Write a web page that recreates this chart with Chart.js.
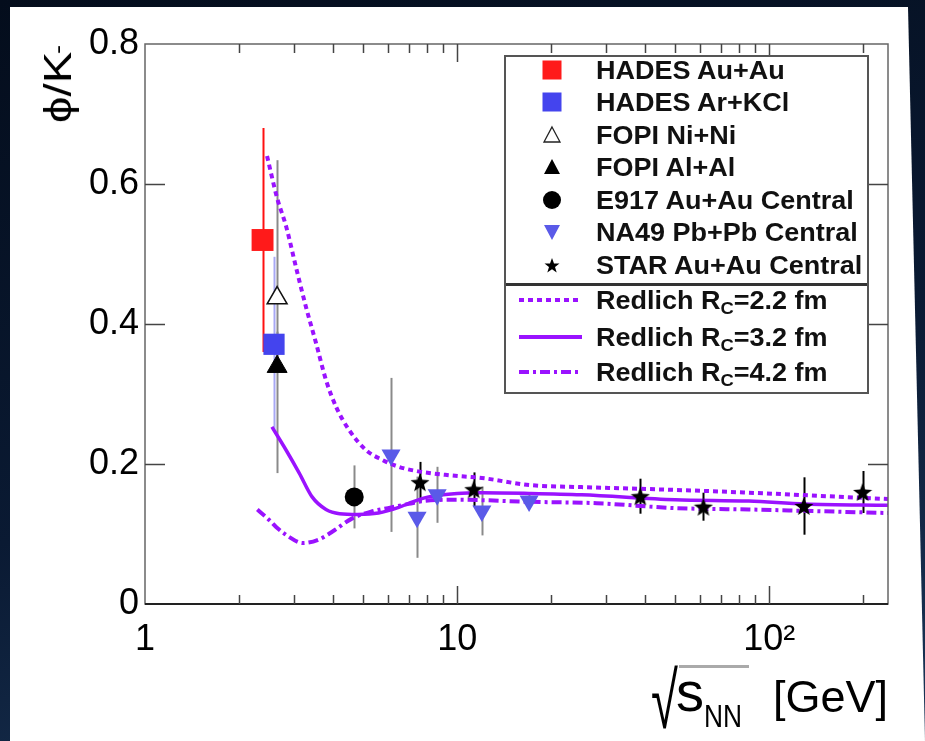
<!DOCTYPE html>
<html>
<head>
<meta charset="utf-8">
<script src="https://cdn.jsdelivr.net/npm/chart.js@4.4.1/dist/chart.umd.min.js"></script>
<style>
html, body { margin: 0; padding: 0; }
body {
    width: 925px; height: 741px; overflow: hidden; position: relative;
    background: linear-gradient(165deg, #040d1c 0%, #0a1a33 55%, #1b3658 100%);
    font-family: 'Liberation Sans', Arial, sans-serif;
}
#panel {
    position: absolute; left: 10px; top: 7px; width: 915px; height: 734px; background: #fff;
    clip-path: polygon(0 0, 898px 0, 915px 734px, 0 734px);
}
#chart { position: absolute; left: 0; top: 0; }
#ytitle {
    position: absolute; left: 58px; top: 84px; font-size: 38px; color: #000; line-height: 1;
    transform: translate(-50%, -50%) rotate(-90deg) scaleX(1.25); white-space: nowrap;
}
#ytitle sup { font-size: 22px; position: relative; top: -6px; margin-left: -2px; vertical-align: baseline; }
.xt { position: absolute; line-height: 1; color: #000; white-space: nowrap; }
#xrad { left: 651px; top: 661px; font-size: 79px; transform: scaleX(0.62); transform-origin: left top; }
#xover { position: absolute; left: 679px; top: 665px; width: 70px; height: 3px; background: #aaa; }
#xs { left: 676px; top: 664px; font-size: 56px; }
#xnn { left: 704px; top: 701px; font-size: 31px; transform: scaleX(0.85); transform-origin: left top; }
#xgev { left: 773px; top: 674px; font-size: 45px; }
#legend {
    position: absolute; left: 504px; top: 55px; width: 361px; height: 335px;
    border: 2px solid #555; background: #fff;
}
#legend .sep { position: absolute; left: 0; top: 226px; width: 361px; height: 3px; background: #333; }
#legend .row {
    position: absolute; left: 0; height: 32px; line-height: 32px;
    font-weight: bold; font-size: 25px; color: #111; white-space: nowrap;
}
#legend .row svg { position: absolute; top: 4px; }
#legend .row span.t { position: absolute; left: 90px; transform: scaleX(1.08); transform-origin: left center; }
#legend sub { font-size: 17px; position: relative; top: 5px; vertical-align: baseline; }
</style>
</head>
<body>
<div id="panel"></div>
<canvas id="chart" width="925" height="741"></canvas>
<div id="ytitle">ϕ/K<sup>-</sup></div>
<span class="xt" id="xrad">√</span>
<div id="xover"></div>
<span class="xt" id="xs">s</span>
<span class="xt" id="xnn">NN</span>
<span class="xt" id="xgev">[GeV]</span>
<div id="legend"></div>

<script>
// measured points (sqrt(s_NN) in GeV, phi/K- ratio, lower/upper errors)
const hadesAuAuX = [2.38];
const hadesAuAuY = [0.52];
const hadesAuAuErr = [0.16];

const hadesArKClX = [2.59];
const hadesArKClY = [0.371];
const hadesArKClErr = [0.125];

const fopiNiNiX = [2.65];
const fopiNiNiY = [0.437];
const fopiNiNiErrLo = [0.10];
const fopiNiNiErrHi = [0.197];

const fopiAlAlX = [2.65];
const fopiAlAlY = [0.339];
const fopiAlAlErrLo = [0.152];
const fopiAlAlErrHi = [0.05];

const e917X = [4.68];
const e917Y = [0.153];
const e917Err = [0.045];

const na49X = [6.14, 7.44, 8.63, 12.0, 17.0];
const na49Y = [0.213, 0.124, 0.156, 0.133, 0.147];
const na49Err = [0.11, 0.058, 0.04, 0.035, 0.01];

const starX = [7.6, 11.3, 38.6, 61.5, 129, 199];
const starY = [0.174, 0.164, 0.154, 0.139, 0.140, 0.160];
const starErr = [0.029, 0.024, 0.025, 0.02, 0.041, 0.03];

// Redlich canonical model curves
const redlich22X = [2.46, 2.65, 2.83, 3.05, 3.28, 3.53, 3.8, 4.1, 4.5, 5.1, 5.75, 6.5, 7.4, 9.4, 12, 17, 25, 50, 86, 240];
const redlich22Y = [0.64, 0.58, 0.54, 0.48, 0.424, 0.373, 0.32, 0.281, 0.249, 0.22, 0.206, 0.196, 0.19, 0.184, 0.18, 0.17, 0.167, 0.163, 0.159, 0.15];

const redlich32X = [2.55, 2.83, 3.12, 3.43, 3.8, 4.2, 4.8, 5.6, 6.5, 7.2, 8.1, 10, 12, 17, 25, 50, 86, 130, 240];
const redlich32Y = [0.253, 0.22, 0.187, 0.153, 0.135, 0.129, 0.128, 0.13, 0.138, 0.146, 0.153, 0.158, 0.159, 0.158, 0.156, 0.149, 0.147, 0.143, 0.141];

const redlich42X = [2.29, 2.5, 2.63, 2.87, 3.2, 3.6, 4.0, 4.6, 5.3, 6.0, 7.0, 7.8, 10, 17, 28, 50, 86, 240];
const redlich42Y = [0.135, 0.12, 0.11, 0.097, 0.087, 0.092, 0.104, 0.122, 0.132, 0.137, 0.143, 0.147, 0.149, 0.146, 0.144, 0.137, 0.135, 0.13];

const xTickLabels = [1, 10, 100];
const xMinorTicks = [2, 3, 4, 5, 6, 7, 8, 9, 20, 30, 40, 50, 60, 70, 80, 90, 200];
const yTicks = [0.2, 0.4, 0.6];

const purple = '#9a12ff';
const na49Color = '#5a5ae8';

function pts(xs, ys) {
    return xs.map((x, i) => ({ x: x, y: ys[i] }));
}

function makeStar(size) {
    const c = document.createElement('canvas');
    c.width = size; c.height = size;
    const g = c.getContext('2d');
    const r = size / 2, ri = r * 0.42;
    g.beginPath();
    for (let k = 0; k < 10; k++) {
        const rr = k % 2 === 0 ? r : ri;
        const a = -Math.PI / 2 + k * Math.PI / 5;
        g.lineTo(r + rr * Math.cos(a), r + 1 + rr * Math.sin(a));
    }
    g.closePath();
    g.fillStyle = '#000';
    g.fill();
    return c;
}

const errorBars = {
    id: 'errorBars',
    beforeDatasetsDraw(chart) {
        const ctx = chart.ctx;
        const xs = chart.scales.x, ys = chart.scales.y;
        chart.data.datasets.forEach(ds => {
            if (!ds.errLo) return;
            ctx.save();
            ctx.strokeStyle = ds.errColor;
            ctx.lineWidth = 2;
            ds.data.forEach((p, j) => {
                const px = Math.round(xs.getPixelForValue(p.x)) + 0.5;
                ctx.beginPath();
                ctx.moveTo(px, ys.getPixelForValue(p.y + ds.errHi[j]));
                ctx.lineTo(px, ys.getPixelForValue(p.y - ds.errLo[j]));
                ctx.stroke();
            });
            ctx.restore();
        });
    }
};

const frameTicks = {
    id: 'frameTicks',
    afterDraw(chart) {
        const ctx = chart.ctx;
        const a = chart.chartArea;
        const xs = chart.scales.x, ys = chart.scales.y;
        ctx.save();
        ctx.strokeStyle = '#666';
        ctx.lineWidth = 1.5;
        ctx.strokeRect(a.left, a.top, a.right - a.left, a.bottom - a.top);
        ctx.strokeStyle = '#222';
        ctx.lineWidth = 2;
        ctx.beginPath();
        ctx.moveTo(a.left, a.bottom); ctx.lineTo(a.right, a.bottom);
        ctx.stroke();
        ctx.lineWidth = 1.5;
        ctx.beginPath();
        xTickLabels.concat(xMinorTicks).forEach(v => {
            if (v <= xs.min || v >= xs.max) return;
            const len = xTickLabels.includes(v) ? 18 : 9;
            const px = Math.round(xs.getPixelForValue(v)) + 0.5;
            ctx.moveTo(px, a.bottom); ctx.lineTo(px, a.bottom - len);
            ctx.moveTo(px, a.top); ctx.lineTo(px, a.top + len);
        });
        yTicks.forEach(v => {
            const py = Math.round(ys.getPixelForValue(v)) + 0.5;
            ctx.moveTo(a.left, py); ctx.lineTo(a.left + 20, py);
            ctx.moveTo(a.right, py); ctx.lineTo(a.right - 20, py);
        });
        ctx.strokeStyle = '#444';
        ctx.stroke();
        ctx.restore();
    }
};

const starImg = makeStar(20);
const tickFont = { family: "'Liberation Sans', Arial, sans-serif", size: 36 };

new Chart(document.getElementById('chart'), {
    type: 'scatter',
    data: {
        datasets: [
            { label: 'HADES Au+Au', data: pts(hadesAuAuX, hadesAuAuY), errLo: hadesAuAuErr, errHi: hadesAuAuErr, errColor: '#ff1010',
              pointStyle: 'rect', pointRadius: 15.5, backgroundColor: '#ff1a1a', borderColor: '#ff1a1a', borderWidth: 0 },
            { label: 'HADES Ar+KCl', data: pts(hadesArKClX, hadesArKClY), errLo: hadesArKClErr, errHi: hadesArKClErr, errColor: '#a8a8f4',
              pointStyle: 'rect', pointRadius: 15, backgroundColor: '#4444ee', borderColor: '#4444ee', borderWidth: 0 },
            { label: 'FOPI Ni+Ni', data: pts(fopiNiNiX, fopiNiNiY), errLo: fopiNiNiErrLo, errHi: fopiNiNiErrHi, errColor: '#8a8a8a',
              pointStyle: 'triangle', pointRadius: 11.5, backgroundColor: '#fff', borderColor: '#111', borderWidth: 1.5 },
            { label: 'FOPI Al+Al', data: pts(fopiAlAlX, fopiAlAlY), errLo: fopiAlAlErrLo, errHi: fopiAlAlErrHi, errColor: '#8a8a8a',
              pointStyle: 'triangle', pointRadius: 11.5, backgroundColor: '#000', borderColor: '#000', borderWidth: 1 },
            { label: 'E917 Au+Au Central', data: pts(e917X, e917Y), errLo: e917Err, errHi: e917Err, errColor: '#8a8a8a',
              pointStyle: 'circle', pointRadius: 9.5, backgroundColor: '#000', borderColor: '#000', borderWidth: 0 },
            { label: 'NA49 Pb+Pb Central', data: pts(na49X, na49Y), errLo: na49Err, errHi: na49Err, errColor: '#8a8a8a',
              pointStyle: 'triangle', rotation: 180, pointRadius: 11, backgroundColor: na49Color, borderColor: na49Color, borderWidth: 0 },
            { label: 'STAR Au+Au Central', data: pts(starX, starY), errLo: starErr, errHi: starErr, errColor: '#000',
              pointStyle: starImg, pointRadius: 10 },
            { label: 'Redlich Rc=2.2 fm', data: pts(redlich22X, redlich22Y), showLine: true, pointRadius: 0,
              borderColor: purple, borderWidth: 4, borderDash: [5, 4], cubicInterpolationMode: 'monotone' },
            { label: 'Redlich Rc=3.2 fm', data: pts(redlich32X, redlich32Y), showLine: true, pointRadius: 0,
              borderColor: purple, borderWidth: 3.5, cubicInterpolationMode: 'monotone' },
            { label: 'Redlich Rc=4.2 fm', data: pts(redlich42X, redlich42Y), showLine: true, pointRadius: 0,
              borderColor: purple, borderWidth: 4, borderDash: [10, 4, 3, 4], cubicInterpolationMode: 'monotone' }
        ]
    },
    options: {
        responsive: false,
        animation: false,
        layout: { padding: { left: 0, top: 44, right: 37, bottom: 77 } },
        plugins: { legend: { display: false }, tooltip: { enabled: false } },
        scales: {
            x: {
                type: 'logarithmic', min: 1, max: 240,
                grid: { display: false, drawTicks: false }, border: { display: false },
                afterBuildTicks: s => { s.ticks = xTickLabels.map(v => ({ value: v })); },
                afterFit: s => { s.height = 60; },
                ticks: {
                    autoSkip: false, maxRotation: 0, padding: 14, color: '#000', font: tickFont,
                    callback: v => (v === 100 ? '10²' : String(v))
                }
            },
            y: {
                min: 0, max: 0.8,
                grid: { display: false, drawTicks: false }, border: { display: false },
                afterFit: s => { s.width = 145; },
                ticks: {
                    stepSize: 0.2, padding: 6, color: '#000', font: tickFont,
                    callback: v => (v === 0 ? '0' : v.toFixed(1))
                }
            }
        }
    },
    plugins: [errorBars, frameTicks]
});

// legend box
const lineSvg = dash => `<svg width="70" height="24" style="left:12px"><line x1="1" y1="12" x2="64" y2="12" stroke="${purple}" stroke-width="4" ${dash ? `stroke-dasharray="${dash}"` : ''}/></svg>`;
const mk = inner => `<svg width="24" height="24" style="left:34px">${inner}</svg>`;
const legendRows = [
    [70, mk('<rect x="2.5" y="2.5" width="19" height="19" fill="#ff1a1a"/>'), 'HADES Au+Au'],
    [102, mk('<rect x="2.5" y="2.5" width="19" height="19" fill="#4444ee"/>'), 'HADES Ar+KCl'],
    [135, mk('<polygon points="12,4 20,19 4,19" fill="#fff" stroke="#222" stroke-width="1.3"/>'), 'FOPI Ni+Ni'],
    [167, mk('<polygon points="12,4 20,19 4,19" fill="#000"/>'), 'FOPI Al+Al'],
    [200, mk('<circle cx="12" cy="12" r="9" fill="#000"/>'), 'E917 Au+Au Central'],
    [232, mk(`<polygon points="4,5 20,5 12,20" fill="${na49Color}"/>`), 'NA49 Pb+Pb Central'],
    [265, mk('<polygon points="12,5 14,10.5 19.5,10.5 15,14 16.7,19.5 12,16.2 7.3,19.5 9,14 4.5,10.5 10,10.5" fill="#000"/>'), 'STAR Au+Au Central'],
    [300, lineSvg('5 4'), 'Redlich R<sub>C</sub>=2.2 fm'],
    [337, lineSvg(''), 'Redlich R<sub>C</sub>=3.2 fm'],
    [372, lineSvg('10 4 3 4'), 'Redlich R<sub>C</sub>=4.2 fm']
];
document.getElementById('legend').innerHTML = '<div class="sep"></div>' + legendRows.map(r =>
    `<div class="row" style="top:${r[0] - 57 - 16}px;width:361px">${r[1]}<span class="t">${r[2]}</span></div>`
).join('');
</script>
</body>
</html>
